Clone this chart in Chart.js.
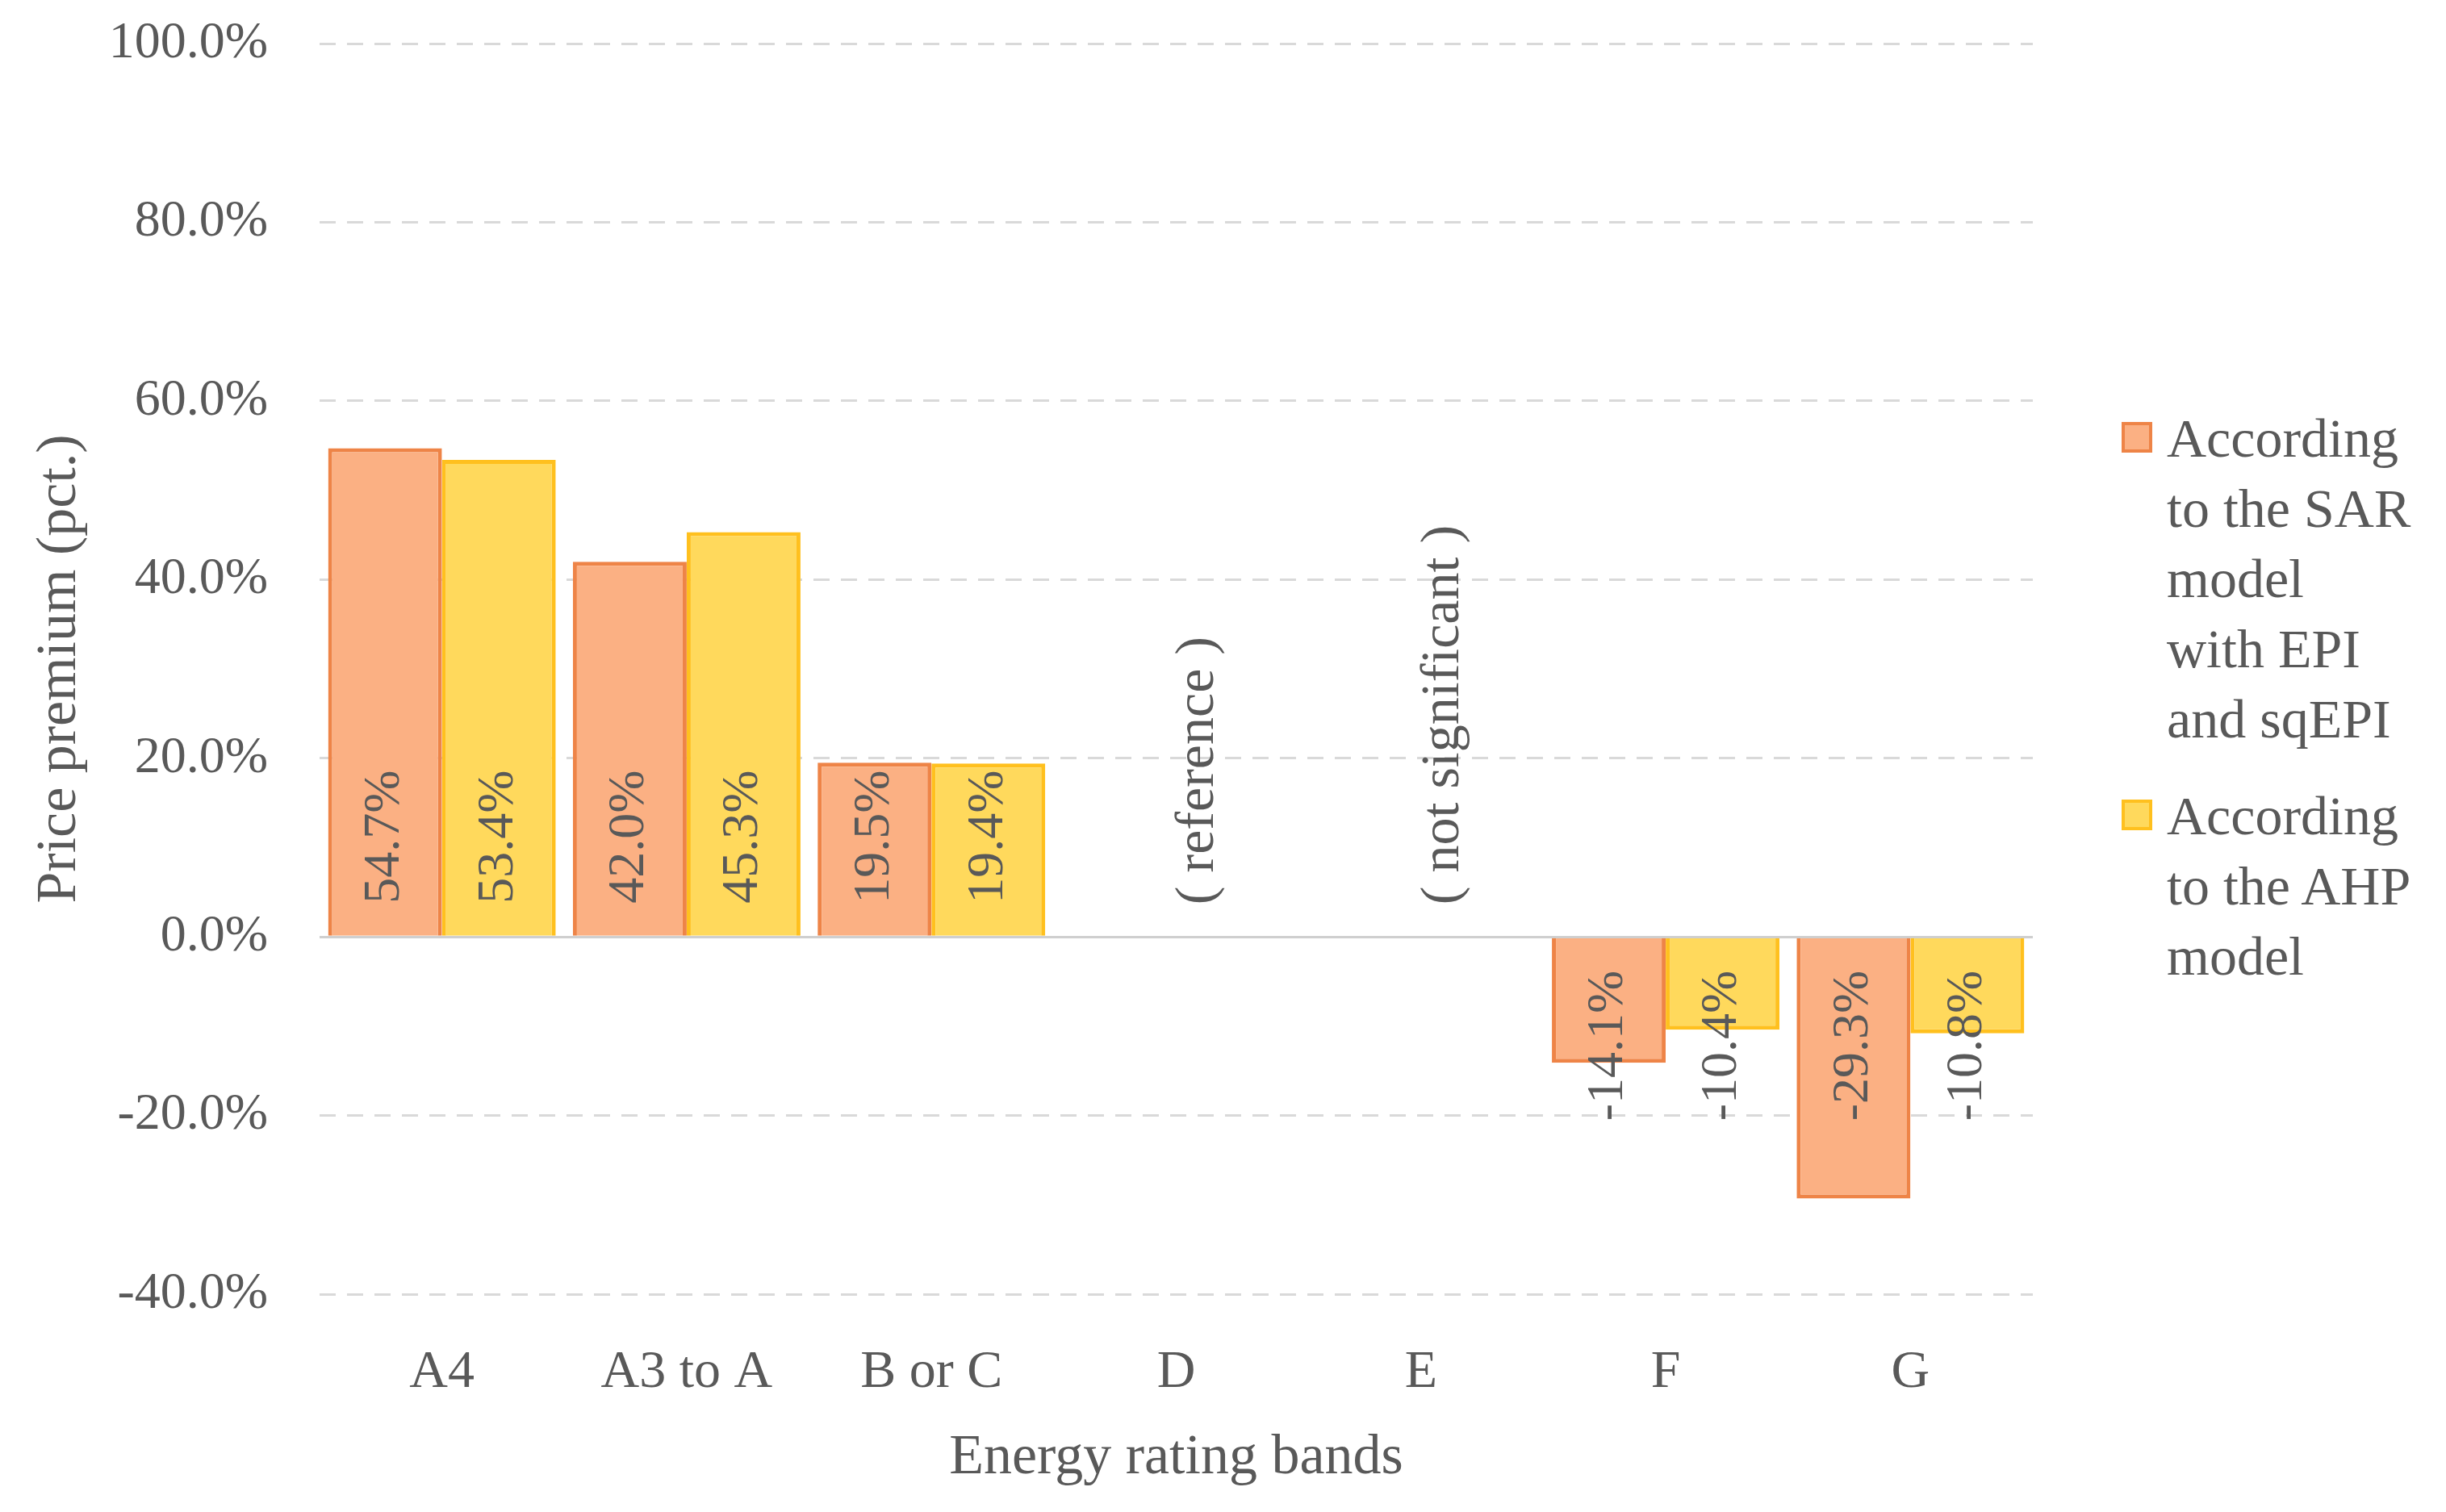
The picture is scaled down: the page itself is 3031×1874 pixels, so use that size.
<!DOCTYPE html>
<html>
<head>
<meta charset="utf-8">
<script src="https://cdn.jsdelivr.net/npm/chart.js@4.4.1/dist/chart.umd.min.js"></script>
<style>
  html, body { margin: 0; padding: 0; background: #fff; }
  #wrap { position: relative; width: 3031px; height: 1874px; }
  #legend {
    position: absolute; left: 2629px; top: 500px;
    font-family: 'Liberation Serif', 'Times New Roman', serif;
    font-size: 68px; line-height: 87px; color: #595959;
  }
  .item { display: flex; align-items: flex-start; margin-bottom: 33px; }
  .box { width: 38px; height: 38px; margin-top: 23px; margin-right: 18px; box-sizing: border-box; border: 4px solid; flex: none; }
  .line { white-space: nowrap; }
</style>
</head>
<body>
<div id="wrap">
  <canvas id="chart" width="3031" height="1874"></canvas>
  <div id="legend"></div>
</div>
<script>
const categories = ['A4', 'A3 to A', 'B or C', 'D', 'E', 'F', 'G'];
const sarValues = [54.7, 42.0, 19.5, null, null, -14.1, -29.3];
const ahpValues = [53.4, 45.3, 19.4, null, null, -10.4, -10.8];
const categoryNotes = ['', '', '', '( reference )', '( not significant )', '', ''];
const sarLegend = ['According', 'to the SAR', 'model', 'with EPI', 'and sqEPI'];
const ahpLegend = ['According', 'to the AHP', 'model'];
const yTicks = [-40, -20, 0, 20, 40, 60, 80, 100];

const TEXT = '#595959';
const SERIF = "'Liberation Serif', 'Times New Roman', serif";

const barLabels = {
  id: 'barLabels',
  afterDatasetsDraw(chart) {
    const { ctx } = chart;
    ctx.save();
    ctx.fillStyle = TEXT;
    ctx.textBaseline = 'middle';
    ctx.font = '64px ' + SERIF;
    chart.data.datasets.forEach((ds, di) => {
      const meta = chart.getDatasetMeta(di);
      meta.data.forEach((bar, i) => {
        const v = ds.data[i];
        if (v == null) return;
        ctx.save();
        if (v >= 0) {
          ctx.translate(bar.x, bar.base - 40);
          ctx.textAlign = 'left';
        } else {
          ctx.translate(bar.x, bar.base + 40);
          ctx.textAlign = 'right';
        }
        ctx.rotate(-Math.PI / 2);
        ctx.fillText(v.toFixed(1) + '%', 0, 0);
        ctx.restore();
      });
    });
    // notes for the bands without bars
    const xs = chart.scales.x;
    const y0 = chart.scales.y.getPixelForValue(0);
    ctx.font = '68px ' + SERIF;
    ctx.textAlign = 'left';
    categoryNotes.forEach((note, i) => {
      if (!note) return;
      ctx.save();
      ctx.translate(xs.getPixelForValue(i) + 28, y0 - 40);
      ctx.rotate(-Math.PI / 2);
      ctx.fillText(note, 0, 0);
      ctx.restore();
    });
    ctx.restore();
  },
};

const chart = new Chart(document.getElementById('chart'), {
  type: 'bar',
  data: {
    labels: categories,
    datasets: [
      {
        label: sarLegend.join(' '),
        data: sarValues,
        backgroundColor: '#FBB083',
        borderColor: '#EE8447',
        borderWidth: 5,
        categoryPercentage: 0.93,
        barPercentage: 1.0,
      },
      {
        label: ahpLegend.join(' '),
        data: ahpValues,
        backgroundColor: '#FFD95C',
        borderColor: '#FFC01E',
        borderWidth: 5,
        categoryPercentage: 0.93,
        barPercentage: 1.0,
      },
    ],
  },
  options: {
    responsive: false,
    devicePixelRatio: 1,
    animation: false,
    layout: { padding: { left: 0, right: 512, top: 54, bottom: 0 } },
    plugins: {
      legend: { display: false },
      tooltip: { enabled: false },
    },
    scales: {
      x: {
        grid: { display: false },
        border: { display: false },
        ticks: {
          color: TEXT,
          padding: 50,
          font: { family: SERIF, size: 66 },
        },
        title: {
          display: true,
          text: 'Energy rating bands',
          color: TEXT,
          font: { family: SERIF, size: 70 },
          padding: { top: 0, bottom: 24 },
        },
        afterFit(scale) { scale.height = 270; },
      },
      y: {
        min: -40,
        max: 100,
        afterBuildTicks(scale) { scale.ticks = yTicks.map((v) => ({ value: v })); },
        grid: {
          color: (c) => (c.tick && c.tick.value === 0 ? '#CFCFCF' : '#D9D9D9'),
          lineWidth: 3,
          drawTicks: false,
        },
        border: {
          display: false,
          dash: (c) => (c.tick && c.tick.value === 0 ? [] : [20, 14]),
        },
        ticks: {
          color: TEXT,
          padding: 64,
          font: { family: SERIF, size: 64 },
          callback: (v) => v.toFixed(1) + '%',
        },
        title: {
          display: true,
          text: 'Price premium (pct.)',
          color: TEXT,
          font: { family: SERIF, size: 70 },
          padding: { top: 33, bottom: 0 },
        },
        afterFit(scale) {
          scale.width = 396;
          scale.paddingTop = 0;
          scale.paddingBottom = 0;
        },
      },
    },
  },
  plugins: [barLabels],
});

// legend built from the datasets, with the line breaks of the original
const legendEl = document.getElementById('legend');
[sarLegend, ahpLegend].forEach((lines, i) => {
  const ds = chart.data.datasets[i];
  const item = document.createElement('div');
  item.className = 'item';
  const box = document.createElement('span');
  box.className = 'box';
  box.style.background = ds.backgroundColor;
  box.style.borderColor = ds.borderColor;
  const txt = document.createElement('div');
  lines.forEach((l) => {
    const d = document.createElement('div');
    d.className = 'line';
    d.textContent = l;
    txt.appendChild(d);
  });
  item.appendChild(box);
  item.appendChild(txt);
  legendEl.appendChild(item);
});
</script>
</body>
</html>
